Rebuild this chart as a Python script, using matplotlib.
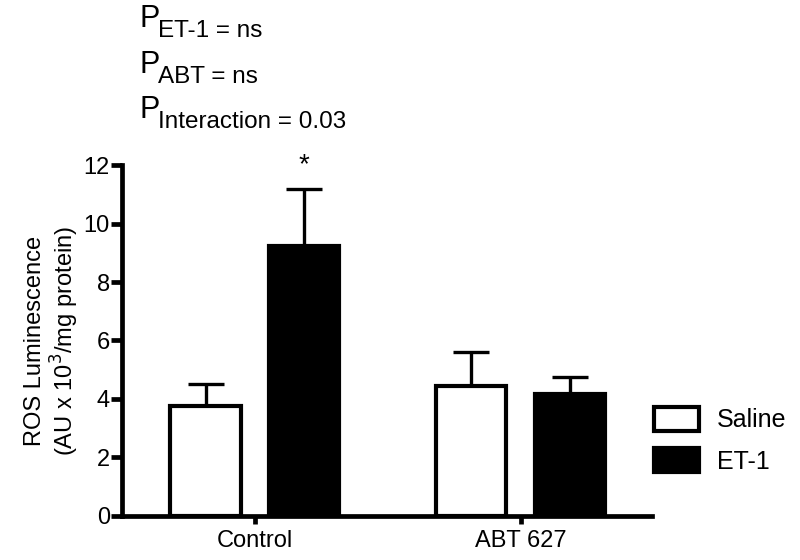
import matplotlib
matplotlib.use("Agg")
import matplotlib.pyplot as plt
import numpy as np
from matplotlib.patches import Patch

plt.rcParams["font.family"] = ["Liberation Sans", "DejaVu Sans"]

groups = ["Control", "ABT 627"]
series = ["Saline", "ET-1"]
saline_mean = [3.77, 4.45]
saline_sem = [0.73, 1.15]
et1_mean = [9.23, 4.16]
et1_sem = [1.97, 0.60]
p_terms = ["ET-1 = ns", "ABT = ns", "Interaction = 0.03"]
y_ticks = [0, 2, 4, 6, 8, 10, 12]

fig = plt.figure(figsize=(8, 5.6), dpi=100, facecolor="white")
ax = fig.add_axes([0.153, 0.079, 0.662, 0.626])

x = np.arange(len(groups))
width = 0.264
off = 0.186
err_kw = dict(elinewidth=2.4, capthick=2.4, ecolor="black", capsize=13)

ax.bar(x - off, saline_mean, width, color="white", edgecolor="black",
       linewidth=3, zorder=3)
ax.errorbar(x - off, saline_mean, yerr=[np.zeros(2), saline_sem],
            fmt="none", zorder=2, **err_kw)
ax.bar(x + off, et1_mean, width, color="black", edgecolor="black",
       linewidth=3, zorder=3)
ax.errorbar(x + off, et1_mean, yerr=[np.zeros(2), et1_sem],
            fmt="none", zorder=2, **err_kw)

# significance star over Control / ET-1
ax.text(x[0] + off, et1_mean[0] + et1_sem[0] + 0.8, "*", ha="center",
        va="center", fontsize=20)

ax.set_xlim(-0.4987, 1.494)
ax.set_ylim(0, 12)
ax.set_xticks(x)
ax.set_xticklabels(groups, fontsize=17)
ax.set_yticks(y_ticks)
ax.set_yticklabels([str(t) for t in y_ticks], fontsize=17)
ax.spines["top"].set_visible(False)
ax.spines["right"].set_visible(False)
ax.spines["left"].set_linewidth(3.4)
ax.spines["bottom"].set_linewidth(3.4)
ax.tick_params(axis="y", length=8, width=3.4, pad=1)
ax.tick_params(axis="x", length=6, width=3.4, pad=4)
ax.set_ylabel("ROS Luminescence\n(AU x 10$^{3}$/mg protein)", fontsize=17,
              labelpad=2, linespacing=1.1)

handles = [Patch(facecolor="white", edgecolor="black", linewidth=3),
           Patch(facecolor="black", edgecolor="black", linewidth=3)]
fig.legend(handles, series, loc="center left", bbox_to_anchor=(0.818, 0.214),
           frameon=False, fontsize=18, borderpad=0, borderaxespad=0,
           handlelength=1.8, handleheight=1.1, handletextpad=0.7,
           labelspacing=0.65)

# P values in the top-left corner
p_base = [0.952, 0.870, 0.789]
for term, yb in zip(p_terms, p_base):
    fig.text(0.175, yb, "P", fontsize=22, va="baseline")
    fig.text(0.1975, yb - 0.018, term, fontsize=17.5, va="baseline")

fig.savefig("out.png", dpi=100, facecolor="white")
